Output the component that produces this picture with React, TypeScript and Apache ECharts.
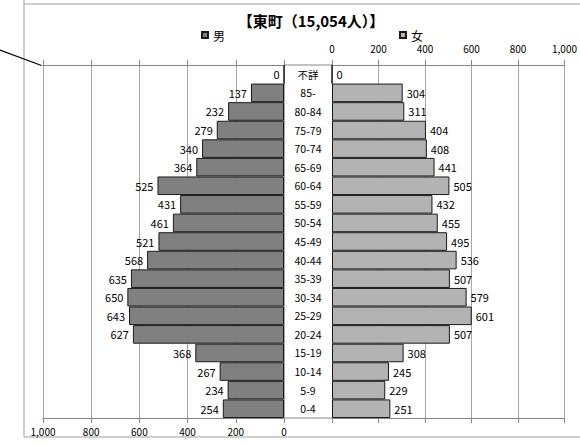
import React, { useEffect, useRef } from "react";
import * as echarts from "echarts";

const categories = ["不詳", "85-", "80-84", "75-79", "70-74", "65-69", "60-64", "55-59", "50-54", "45-49", "40-44", "35-39", "30-34", "25-29", "20-24", "15-19", "10-14", "5-9", "0-4"];
const male = [0, 137, 232, 279, 340, 364, 525, 431, 461, 521, 568, 635, 650, 643, 627, 368, 267, 234, 254];
const female = [0, 304, 311, 404, 408, 441, 505, 432, 455, 495, 536, 507, 579, 601, 507, 308, 245, 229, 251];
const seriesNames = ["男", "女"];
const titleText = "【東町（15,054人）】";
const axisMin = 0;
const axisMax = 1000;
const axisStep = 200;

const FONT = "'Noto Sans CJK JP', 'Noto Sans', sans-serif";
const GRID_COLOR = "#a6a6a6";
const AXIS_COLOR = "#868686";

const fmt = (v: number) => v.toLocaleString("en-US");

export default function App() {
  const ref = useRef<HTMLDivElement>(null);
  useEffect(() => {
    if (!ref.current) return;
    const chart = echarts.init(ref.current, null, { renderer: "svg" });
    const gTop = 65;
    const gH = 353;
    const baseX = (gridIndex: number, position: string, showLabel: boolean, inverse: boolean, margin: number, split: boolean) => ({
      type: "value",
      gridIndex,
      position,
      min: axisMin,
      max: axisMax,
      interval: axisStep,
      inverse,
      axisLine: { show: true, lineStyle: { color: AXIS_COLOR, width: 1 } },
      axisTick: { show: true, length: 5, lineStyle: { color: AXIS_COLOR } },
      axisLabel: { show: showLabel, formatter: fmt, fontSize: 10, color: "#000", fontFamily: FONT, margin },
      splitLine: { show: split, lineStyle: { color: GRID_COLOR, width: 1 } },
    });
    const legendBase = {
      padding: 0,
      top: 29,
      itemWidth: 6,
      itemHeight: 6,
      icon: "rect",
      textStyle: { fontSize: 12, color: "#000", fontFamily: FONT },
    };
    chart.setOption({
      animation: false,
      backgroundColor: "#fff",
      textStyle: { fontFamily: FONT },
      grid: [
        { left: 43, width: 241, top: gTop, height: gH },
        { left: 332, width: 241, top: gTop, height: gH },
      ],
      legend: [
        { ...legendBase, data: [seriesNames[0]], left: 201 },
        { ...legendBase, data: [seriesNames[1]], left: 399 },
      ],
      xAxis: [
        baseX(0, "bottom", true, true, 8, true),
        baseX(0, "top", false, true, 8, false),
        baseX(1, "top", true, false, 12, true),
        baseX(1, "bottom", false, false, 8, false),
      ],
      yAxis: [
        {
          type: "category",
          gridIndex: 0,
          data: categories,
          inverse: true,
          position: "right",
          axisLine: { show: false },
          axisTick: { show: false },
          axisLabel: { margin: 24, align: "center", fontSize: 10.5, color: "#000", fontFamily: FONT },
        },
        {
          type: "category",
          gridIndex: 1,
          data: categories,
          inverse: true,
          axisLine: { show: false },
          axisTick: { show: false },
          axisLabel: { show: false },
        },
      ],
      series: [
        {
          name: seriesNames[0],
          type: "bar",
          xAxisIndex: 0,
          yAxisIndex: 0,
          data: male,
          barCategoryGap: "0%",
          itemStyle: { color: "#808080", borderColor: "#1a1a1a", borderWidth: 1 },
          label: { show: true, position: "left", distance: 4, color: "#000", fontSize: 11, fontFamily: FONT },
        },
        {
          name: seriesNames[1],
          type: "bar",
          xAxisIndex: 2,
          yAxisIndex: 1,
          data: female,
          barCategoryGap: "0%",
          itemStyle: { color: "#b3b3b3", borderColor: "#1a1a1a", borderWidth: 1 },
          label: { show: true, position: "right", distance: 4, color: "#000", fontSize: 11, fontFamily: FONT },
        },
      ],
      graphic: [
        { type: "line", shape: { x1: 24, y1: 0, x2: 24, y2: 437 }, style: { stroke: "#bfbfbf", lineWidth: 1.5 } },
        { type: "line", shape: { x1: 24, y1: 4, x2: 580, y2: 4 }, style: { stroke: "#bfbfbf", lineWidth: 1.5 } },
        { type: "line", shape: { x1: 24, y1: 437, x2: 580, y2: 437 }, style: { stroke: "#bfbfbf", lineWidth: 1.5 } },
        { type: "line", shape: { x1: 0, y1: 50, x2: 41.5, y2: 65.5 }, style: { stroke: "#000", lineWidth: 1.2 } },
        { type: "line", shape: { x1: 284, y1: gTop, x2: 332, y2: gTop }, style: { stroke: AXIS_COLOR, lineWidth: 1 } },
        { type: "line", shape: { x1: 284, y1: gTop + gH, x2: 332, y2: gTop + gH }, style: { stroke: AXIS_COLOR, lineWidth: 1 } },
        {
          type: "text",
          x: 311,
          y: 20,
          style: { text: titleText, textAlign: "center", textVerticalAlign: "middle", font: `bold 15px ${FONT}`, fill: "#000" },
        },
      ],
    });
    return () => chart.dispose();
  }, []);
  return <div ref={ref} style={{ position: "fixed", left: 0, top: 0, width: 580, height: 446 }} />;
}
